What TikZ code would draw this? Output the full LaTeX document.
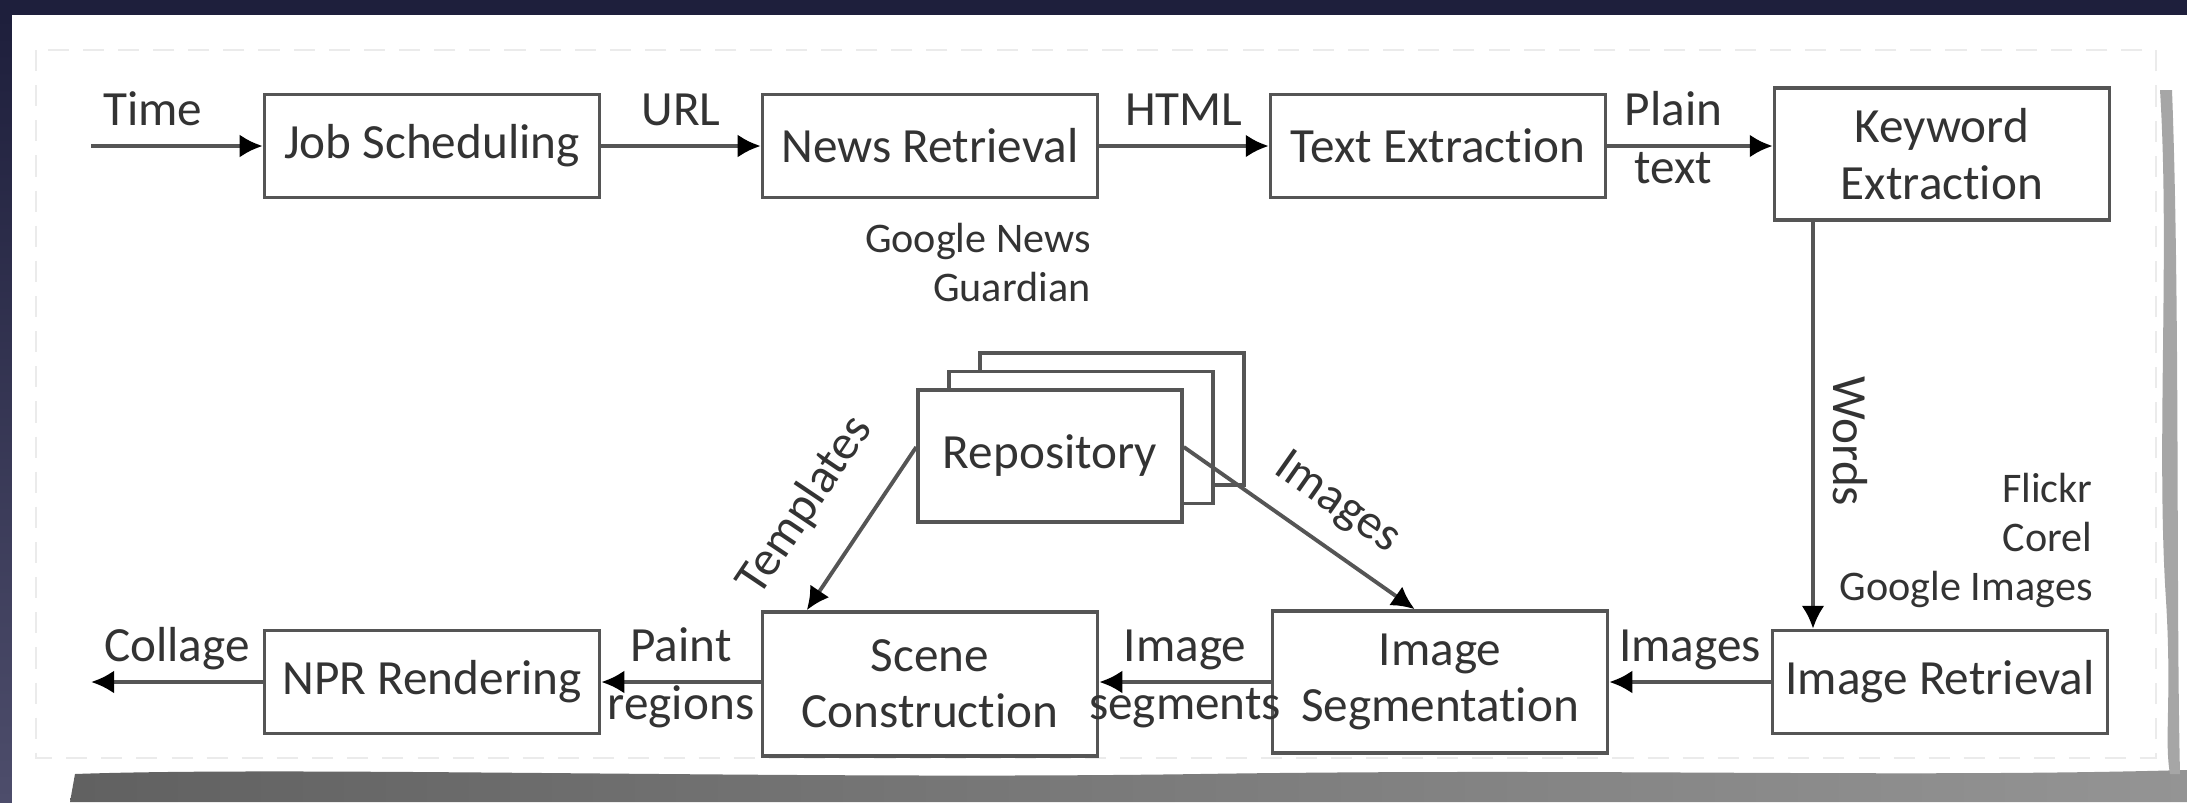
\documentclass[tikz,border=0pt]{standalone}
\usepackage{fontspec}
\setmainfont{Carlito}[Ligatures=NoCommon]
\usetikzlibrary{arrows.meta, calc}
\definecolor{cnavy}{HTML}{1E1F3C}
\definecolor{cside}{HTML}{4D4D6B}
\definecolor{cline}{HTML}{555555}
\definecolor{ctext}{HTML}{333333}
\tikzset{
  every picture/.style={font=\fontsize{14}{16}\selectfont, line width=1pt},
  box/.style={draw=cline, fill=white, text=ctext, align=center, minimum width=3.35cm, minimum height=1.03cm, inner sep=2pt},
  arrow/.style={-{Latex[length=2.3mm, width=2.3mm, color=black]}, draw=cline, line width=1.1pt},
  lbl/.style={text=ctext, inner sep=3pt, text height=0.72em, text depth=0.22em},
  note/.style={font=\fontsize{12}{14}\selectfont, text=ctext, align=right, inner sep=2pt},
}

\begin{document}
\begin{tikzpicture}
  % page: dark frame, torn sheet and its shadow
  \useasboundingbox (0,0) rectangle (21.87,-8.02);
  \fill[cnavy] (0,0) rectangle (21.87,-8.02);
  \shade[top color=cnavy, bottom color=cside] (0,-0.15) rectangle (0.12,-8.02);
  \fill[white] (0.12,-0.15) rectangle (21.87,-8.02);
  \shade[left color=black!62, right color=black!42] (0.70,-8.02) -- (0.75,-7.74)
    .. controls (3,-7.66) and (8,-7.80) .. (12,-7.74)
    .. controls (16,-7.68) and (19,-7.78) .. (21.87,-7.70) -- (21.87,-8.02) -- cycle;
  \fill[black!35] (21.60,-0.9) .. controls (21.70,-2.5) and (21.56,-4.5) .. (21.66,-6)
    .. controls (21.72,-7) and (21.64,-7.4) .. (21.70,-7.74) -- (21.80,-7.74)
    .. controls (21.76,-6) and (21.80,-3) .. (21.72,-0.9) -- cycle;
  \draw[black!8, line width=0.5pt, dash pattern=on 6pt off 4pt] (0.36,-0.50) rectangle (21.56,-7.58);

  % top row
  \node[box] (job) at (4.32,-1.46) {Job Scheduling};
  \node[box] (news) at (9.30,-1.46) {News Retrieval};
  \node[box] (text) at (14.38,-1.46) {Text Extraction};
  \node[box, minimum height=1.32cm] (keyw) at (19.42,-1.54) {Keyword\\Extraction};
  % bottom row
  \node[box] (imgret) at (19.40,-6.82) {Image Retrieval};
  \node[box, minimum height=1.42cm] (imgseg) at (14.40,-6.82) {Image\\Segmentation};
  \node[box, minimum height=1.44cm] (scene) at (9.30,-6.84) {Scene\\Construction};
  \node[box] (npr) at (4.32,-6.82) {NPR Rendering};
  % repository: three sheets, back to front
  \foreach \k/\n in {2/repoC, 1/repoB}
    \node[box, minimum width=2.64cm, minimum height=1.32cm] (\n) at ({10.50+\k*0.31},{-4.56+\k*0.185}) {};
  \node[box, minimum width=2.64cm, minimum height=1.32cm] (repo) at (10.50,-4.56) {Repository};

  % sources
  \node[note, anchor=north east] (srcnews) at ($(news.south east)+(0,-0.15)$) {Google News\\Guardian};
  \node[note, anchor=south east] (srcimg) at ($(imgret.north east)+(-0.08,0.12)$) {Flickr\\Corel\\Google Images};

  % free ends
  \coordinate (tin) at (0.91,-1.46);
  \coordinate (cout) at (0.91,-6.82);
  \coordinate (wx) at (18.13,0);

  \draw[arrow] (tin) -- node[lbl, above, pos=0.36]{Time} (job);
  \draw[arrow] (job) -- node[lbl, above]{URL} (news);
  \draw[arrow] (news) -- node[lbl, above]{HTML} (text);
  \draw[arrow] (text) -- node[lbl, above, pos=0.4]{Plain} node[lbl, below, pos=0.4]{text} (text -| keyw.west);
  \draw[arrow] (keyw.south -| wx) -- node[lbl, rotate=-90, anchor=south, pos=0.54]{Words} (imgret.north -| wx);
  \draw[arrow] (imgret) -- node[lbl, above]{Images} (imgseg);
  \draw[arrow] (imgseg) -- node[lbl, above]{Image} node[lbl, below]{segments} (imgseg -| scene.east);
  \draw[arrow] (scene.west |- npr) -- node[lbl, above]{Paint} node[lbl, below]{regions} (npr);
  \draw[arrow] (npr) -- node[lbl, above]{Collage} (cout);
  \draw[arrow] ([yshift=0.9mm]repo.west) -- node[lbl, sloped, above=2.6mm, pos=0.56]{Templates} ($(scene.north west)+(0.46,0)$);
  \draw[arrow] ([yshift=0.9mm]repo.east) -- node[lbl, sloped, above=1mm, pos=0.56]{Images} ($(imgseg.north west)+(1.44,0)$);
\end{tikzpicture}
\end{document}
